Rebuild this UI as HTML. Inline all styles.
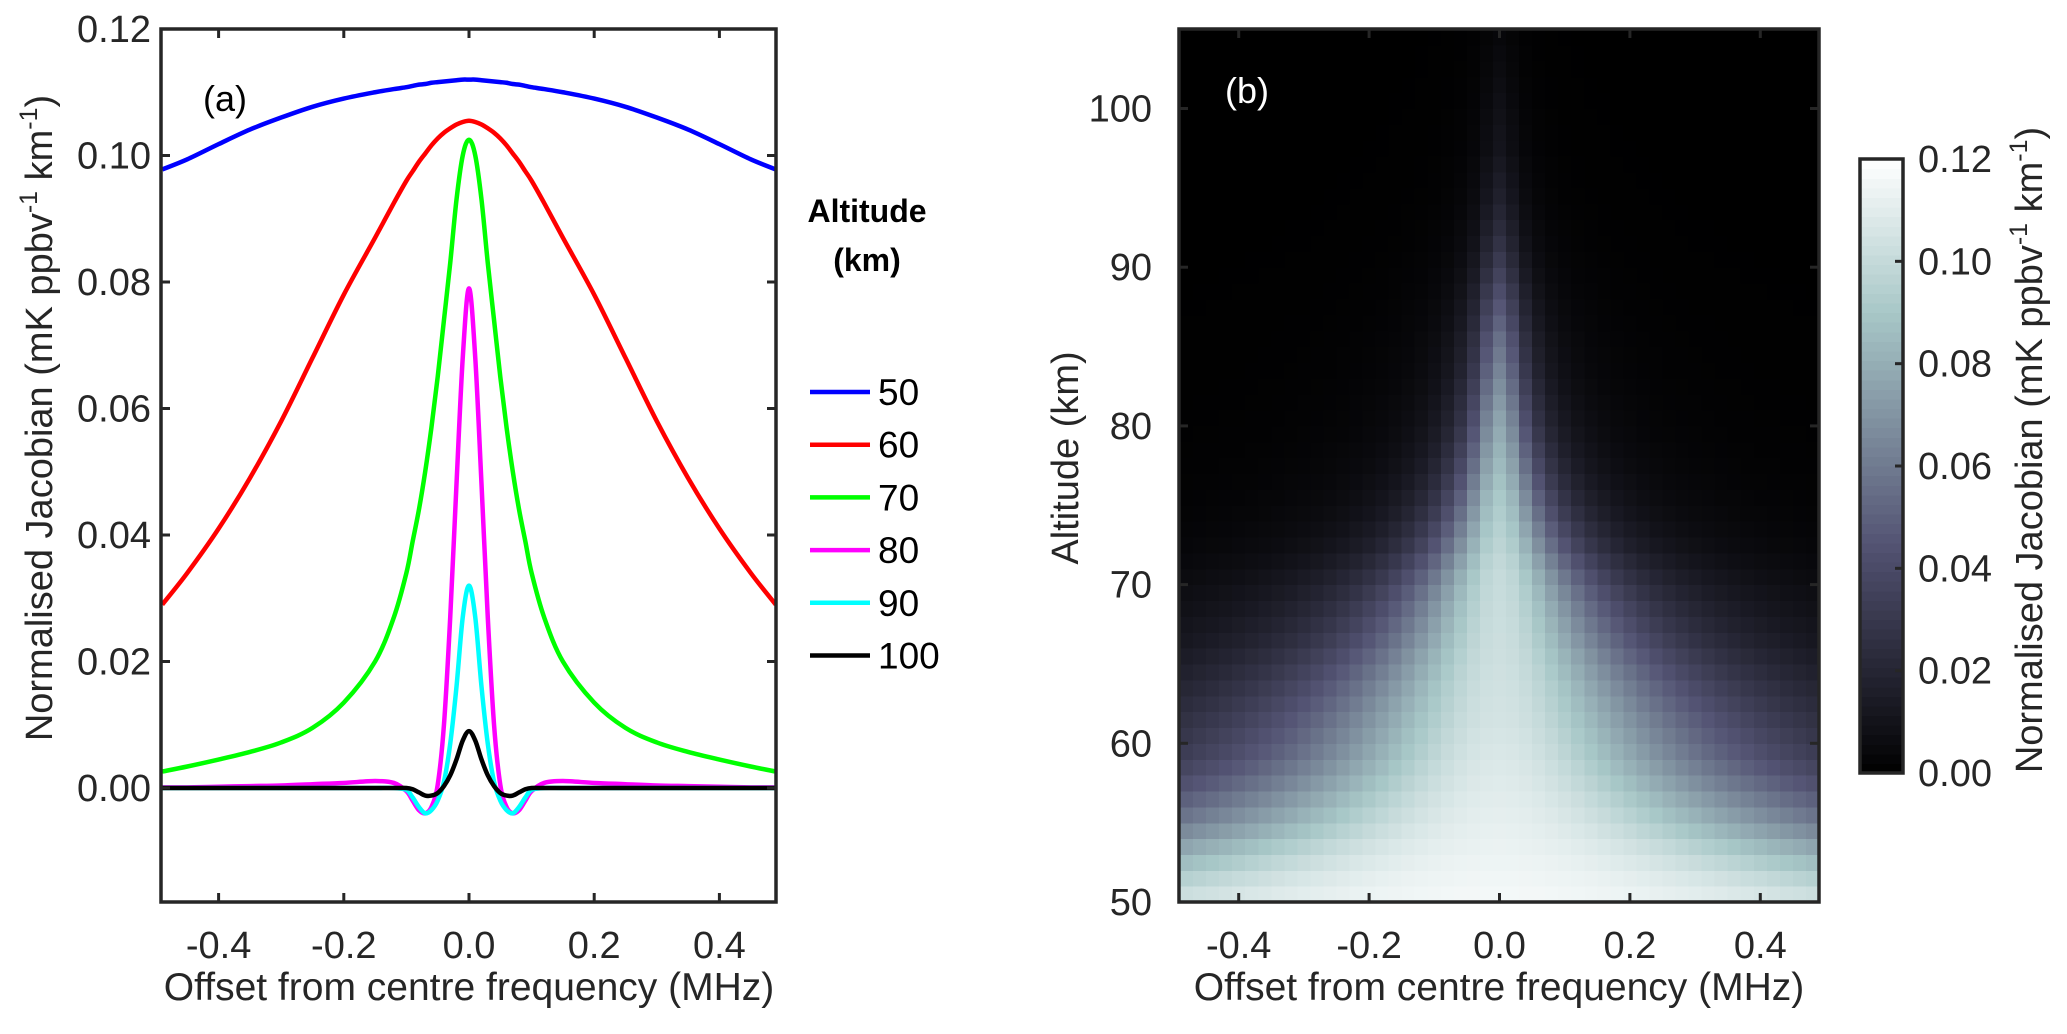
<!DOCTYPE html>
<html><head><meta charset="utf-8"><style>
body{margin:0;background:#fff}
svg{display:block;font-family:"Liberation Sans",Arial,sans-serif}
</style></head><body>
<svg id="fig" width="2067" height="1034" viewBox="0 0 2067 1034">
<defs>
<clipPath id="clipA"><rect x="161" y="29" width="615" height="873"/></clipPath>
<clipPath id="clipB"><rect x="1179" y="29" width="640" height="873"/></clipPath>
</defs>
<g id="panelA"></g>
<g id="panelB"></g>
<g id="cb"></g>
</svg>
<script>
// ---------- Panel (a) data ----------
const offsets = [0,0.01,0.02,0.03,0.04,0.05,0.06,0.07,0.08,0.09,0.1,0.12,0.15,0.2,0.25,0.3,0.35,0.4,0.45,0.49];
const alt50  = [0.112,0.112,0.1119,0.1118,0.1117,0.1116,0.1115,0.1113,0.1112,0.1110,0.1108,0.1105,0.1100,0.1090,0.1077,0.1060,0.1041,0.1018,0.0994,0.0978];
const alt60  = [0.1055,0.1053,0.1049,0.1043,0.1036,0.1027,0.1016,0.1003,0.0990,0.0975,0.096,0.0925,0.087,0.078,0.068,0.058,0.049,0.041,0.034,0.029];
const alt70  = [0.1025,0.100,0.093,0.083,0.074,0.065,0.057,0.050,0.044,0.039,0.034,0.027,0.020,0.0135,0.0095,0.0072,0.0057,0.0045,0.0034,0.0026];
const alt80  = [0.079,0.068,0.048,0.027,0.010,0.0005,-0.003,-0.004,-0.0035,-0.002,-0.0005,0.0008,0.0011,0.0008,0.0006,0.0004,0.0003,0.0002,0.0001,0.0001];
const alt90  = [0.032,0.027,0.016,0.007,0.001,-0.002,-0.0035,-0.004,-0.003,-0.0015,-0.0003,0,0,0,0,0,0,0,0,0];
const alt100 = [0.009,0.0075,0.0045,0.002,0.0003,-0.0008,-0.0012,-0.0012,-0.0007,-0.0002,0,0,0,0,0,0,0,0,0,0];
const seriesNames = ["50","60","70","80","90","100"];
const seriesColors = ["#0000ff","#ff0000","#00ff00","#ff00ff","#00ffff","#000000"];
const xTicks = [-0.4,-0.2,0.0,0.2,0.4];
const xTickLabels = ["-0.4","-0.2","0.0","0.2","0.4"];
const yTicksA = [0,0.02,0.04,0.06,0.08,0.10,0.12];
const yTickLabelsA = ["0.00","0.02","0.04","0.06","0.08","0.10","0.12"];
// ---------- Panel (b) data ----------
const heatAlt   = [50,51,52,53,54,55,56,57,58,59,60,61,62,63,64,65,66,67,68,69,70,71,72,73,74,75,76,77,78,79,80,81,82,83,84,85,86,87,88,89,90,91,92,93,94,95,96,97,98,99,100,101,102,103,104];
const heatPeak  = [0.116,0.115,0.114,0.113,0.112,0.111,0.110,0.109,0.108,0.107,0.106,0.105,0.1045,0.104,0.1035,0.103,0.1025,0.102,0.1015,0.101,0.1005,0.099,0.097,0.095,0.093,0.091,0.088,0.085,0.082,0.079,0.076,0.072,0.068,0.064,0.060,0.056,0.051,0.046,0.041,0.036,0.031,0.027,0.023,0.020,0.017,0.015,0.013,0.011,0.010,0.009,0.008,0.007,0.006,0.005,0.004];
const heatWidth = [1.3,1.05,0.85,0.7,0.58,0.5,0.44,0.39,0.35,0.32,0.30,0.28,0.26,0.24,0.22,0.20,0.18,0.165,0.15,0.135,0.12,0.105,0.092,0.082,0.073,0.066,0.060,0.055,0.051,0.047,0.044,0.042,0.040,0.038,0.037,0.036,0.035,0.034,0.033,0.032,0.031,0.030,0.030,0.029,0.029,0.028,0.028,0.027,0.027,0.026,0.026,0.026,0.025,0.025,0.025];
const freqCenters = [];
for (let i=-24;i<=24;i++) freqCenters.push(i*0.02);
const yTicksB = [50,60,70,80,90,100];
const cbTicks = [0,0.02,0.04,0.06,0.08,0.10,0.12];
const cbTickLabels = ["0.00","0.02","0.04","0.06","0.08","0.10","0.12"];

const NS="http://www.w3.org/2000/svg";
function mk(tag,attrs,parent){const e=document.createElementNS(NS,tag);for(const k in attrs)e.setAttribute(k,attrs[k]);if(parent)parent.appendChild(e);return e;}
const AX="#262626";
const FS=38;
const xA=v=>469+v*626;
const yA=v=>788-v*6325;
const xB=v=>1499.5+v*652;
const yB=v=>902-(v-50)*15.87;
const yC=v=>773-v/0.12*614;

function bone(v){let t=Math.max(0,Math.min(1,v/0.12));
 const c=x=>Math.max(0,Math.min(1,x));
 const r=(7*t+c(4*t-3))/8,g=(7*t+c(8*t/3-1))/8,b=(7*t+Math.min(1,8*t/3))/8;
 return `rgb(${Math.round(r*255)},${Math.round(g*255)},${Math.round(b*255)})`;}

// ---------- Panel A ----------
const A=document.getElementById('panelA');
mk('rect',{x:161,y:29,width:615,height:873,fill:'#fff'},A);
const lines=mk('g',{'clip-path':'url(#clipA)'},A);


const allSeries=[alt50,alt60,alt70,alt80,alt90,alt100];
allSeries.forEach((vals,si)=>{
  const pts=[];
  for(let i=vals.length-1;i>=1;i--)pts.push([-offsets[i],vals[i]]);
  for(let i=0;i<vals.length;i++)pts.push([offsets[i],vals[i]]);
  const P=pts.map(p=>[xA(p[0]),yA(p[1])]);
  let d=`M${P[0][0]},${P[0][1]}`;
  for(let i=0;i<P.length-1;i++){const p0=P[Math.max(0,i-1)],p1=P[i],p2=P[i+1],p3=P[Math.min(P.length-1,i+2)];
    d+=` C${p1[0]+(p2[0]-p0[0])/6},${p1[1]+(p2[1]-p0[1])/6} ${p2[0]-(p3[0]-p1[0])/6},${p2[1]-(p3[1]-p1[1])/6} ${p2[0]},${p2[1]}`;}
  const path=mk('path',{d:d,fill:'none',stroke:seriesColors[si],'stroke-width':4.5,'stroke-linejoin':'round'},lines);
  
  
});
const frameA=mk('rect',{x:161,y:29,width:615,height:873,fill:'none',stroke:AX,'stroke-width':3.5},A);


xTicks.forEach((t,i)=>{const x=xA(t);
  mk('line',{x1:x,y1:902,x2:x,y2:893,stroke:AX,'stroke-width':3},A);
  mk('line',{x1:x,y1:29,x2:x,y2:38,stroke:AX,'stroke-width':3},A);
  const tx=mk('text',{x:x,y:958,'font-size':FS,'text-anchor':'middle',fill:'#262626'},A);tx.textContent=xTickLabels[i];
  
  
});
yTicksA.forEach((t,i)=>{const y=yA(t);
  mk('line',{x1:161,y1:y,x2:170,y2:y,stroke:AX,'stroke-width':3},A);
  mk('line',{x1:776,y1:y,x2:767,y2:y,stroke:AX,'stroke-width':3},A);
  const tx=mk('text',{x:151,y:y+13,'font-size':FS,'text-anchor':'end',fill:'#262626'},A);tx.textContent=yTickLabelsA[i];
  
  
});
</script>
<script>
(function(){
const A=document.getElementById('panelA');
A.insertAdjacentHTML('beforeend',`
<text x="203" y="111" font-size="36" fill="#000">(a)</text>
<text x="469" y="1000" font-size="39" text-anchor="middle" fill="#262626">Offset from centre frequency (MHz)</text>
<text transform="translate(52,418) rotate(-90)" font-size="38" text-anchor="middle" fill="#262626">Normalised Jacobian (mK ppbv<tspan font-size="25" dy="-15">-1</tspan><tspan dy="15"> km</tspan><tspan font-size="25" dy="-15">-1</tspan><tspan dy="15">)</tspan></text>
<g>
<text x="867" y="222" font-size="32" font-weight="bold" text-anchor="middle">Altitude</text>
<text x="867" y="271" font-size="32" font-weight="bold" text-anchor="middle">(km)</text>
</g>`);
const L=A.lastElementChild;
seriesNames.forEach((n,i)=>{const y=392+i*52.7;
  const g=mk('g',{},L);
  
  
  mk('line',{x1:810,y1:y,x2:870,y2:y,stroke:seriesColors[i],'stroke-width':4.5},g);
  const t=mk('text',{x:878,y:y+13,'font-size':37,fill:'#000'},g);t.textContent=n;
});
})();

(function(){
const B=document.getElementById('panelB');
mk('rect',{x:1179,y:29,width:640,height:873,fill:'#000'},B);
const hm=mk('g',{'clip-path':'url(#clipB)','shape-rendering':'crispEdges'},B);


heatAlt.forEach((a,ri)=>{
  const y0=yB(a+1),y1=yB(a);
  freqCenters.forEach(f=>{
    const v=heatPeak[ri]/(1+Math.pow(f/heatWidth[ri],2));
    const x0=xB(f-0.01),x1=xB(f+0.01);
    const r=mk('rect',{x:x0,y:y0,width:x1-x0+0.6,height:y1-y0+0.6,fill:bone(v)},hm);
    
    
  });
});
const fr=mk('rect',{x:1179,y:29,width:640,height:873,fill:'none',stroke:AX,'stroke-width':3.5},B);


xTicks.forEach((t,i)=>{const x=xB(t);
  mk('line',{x1:x,y1:902,x2:x,y2:893,stroke:AX,'stroke-width':3},B);
  mk('line',{x1:x,y1:29,x2:x,y2:38,stroke:AX,'stroke-width':3},B);
  const tx=mk('text',{x:x,y:958,'font-size':FS,'text-anchor':'middle',fill:'#262626'},B);tx.textContent=xTickLabels[i];
  
  
});
yTicksB.forEach(t=>{const y=yB(t);
  mk('line',{x1:1179,y1:y,x2:1188,y2:y,stroke:AX,'stroke-width':3},B);
  mk('line',{x1:1819,y1:y,x2:1810,y2:y,stroke:AX,'stroke-width':3},B);
  const tx=mk('text',{x:1152,y:y+13,'font-size':FS,'text-anchor':'end',fill:'#262626'},B);tx.textContent=String(t);
  
  
});
B.insertAdjacentHTML('beforeend',`
<text x="1225" y="103" font-size="36" fill="#fff">(b)</text>
<text x="1499" y="1000" font-size="39" text-anchor="middle" fill="#262626">Offset from centre frequency (MHz)</text>
<text transform="translate(1078,458) rotate(-90)" font-size="38" text-anchor="middle" fill="#262626">Altitude (km)</text>`);

const C=document.getElementById('cb');
const cg=mk('g',{'shape-rendering':'crispEdges'},C);
const nSteps=64;
for(let i=0;i<nSteps;i++){const v0=i/nSteps*0.12,v1=(i+1)/nSteps*0.12;
  const r=mk('rect',{x:1859,y:yC(v1),width:45,height:yC(v0)-yC(v1)+0.6,fill:bone((v0+v1)/2)},cg);
  
  
}
mk('rect',{x:1860,y:159,width:43,height:614,fill:'none',stroke:AX,'stroke-width':3.5},C);
cbTicks.forEach((t,i)=>{const y=yC(t);
  mk('line',{x1:1903,y1:y,x2:1895,y2:y,stroke:AX,'stroke-width':3},C);
  const tx=mk('text',{x:1918,y:y+13,'font-size':FS,fill:'#262626'},C);tx.textContent=cbTickLabels[i];
  
  
});
C.insertAdjacentHTML('beforeend',`<text transform="translate(2042,450) rotate(-90)" font-size="38" text-anchor="middle" fill="#262626">Normalised Jacobian  (mK ppbv<tspan font-size="25" dy="-15">-1</tspan><tspan dy="15"> km</tspan><tspan font-size="25" dy="-15">-1</tspan><tspan dy="15">)</tspan></text>`);
})();
</script>
</body></html>
